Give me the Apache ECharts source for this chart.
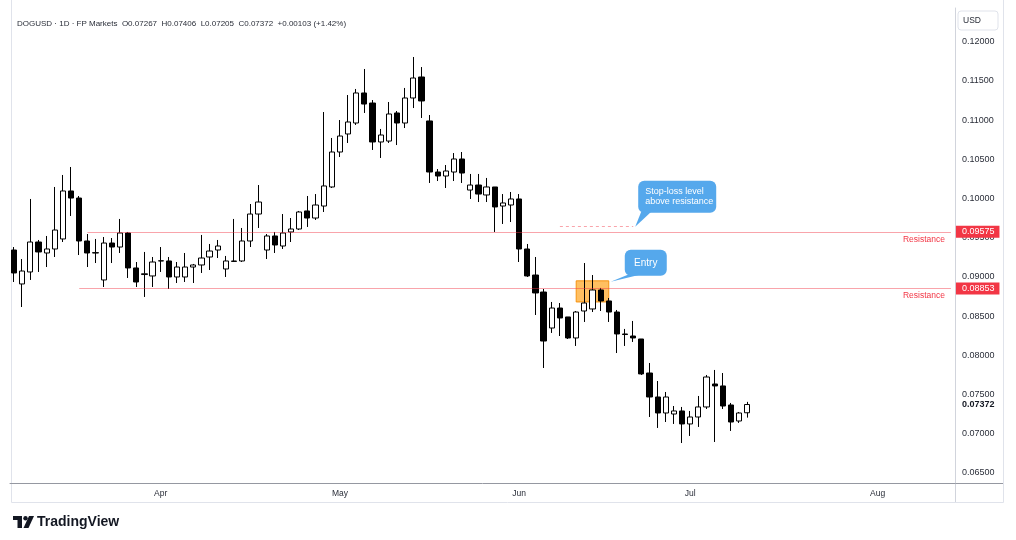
<!DOCTYPE html>
<html>
<head>
<meta charset="utf-8">
<script src="https://cdn.jsdelivr.net/npm/echarts@6/dist/echarts.min.js"></script>
<style>
  html, body {margin: 0; padding: 0; background: #fff;}
  #chart {width: 1016px; height: 540px;}
</style>
</head>
<body>
<div id="chart"></div>
<script>
// weekday sessions from Mar 6, empty sessions on the right are future space
const firstSession = Date.UTC(2025, 2, 6);
const sessionCount = 116;
const monthNames = ['Jan', 'Feb', 'Mar', 'Apr', 'May', 'Jun', 'Jul', 'Aug', 'Sep', 'Oct', 'Nov', 'Dec'];

const opens = [
  0.09343, 0.08910, 0.09063, 0.09445, 0.09305, 0.09356, 0.09484, 0.10096, 0.10006, 0.09458,
  0.09309, 0.08961, 0.09432, 0.09381, 0.09560, 0.09114, 0.09030, 0.09012, 0.09203, 0.09203,
  0.08999, 0.08999, 0.09126, 0.09152, 0.09254, 0.09343, 0.09101, 0.09197, 0.09203, 0.09458,
  0.09802, 0.09343, 0.09522, 0.09394, 0.09573, 0.09611, 0.09841, 0.09751, 0.09904, 0.10147,
  0.10593, 0.10823, 0.10963, 0.11346, 0.11218, 0.10721, 0.10733, 0.11091, 0.10963, 0.11282,
  0.11550, 0.10989, 0.10338, 0.10287, 0.10338, 0.10504, 0.10108, 0.10172, 0.10045, 0.10147,
  0.09904, 0.09917, 0.09994, 0.09356, 0.09024, 0.08807, 0.08348, 0.08603, 0.08489, 0.08221,
  0.08565, 0.08591, 0.08833, 0.08693, 0.08552, 0.08272, 0.08246, 0.08208, 0.07774, 0.07468,
  0.07264, 0.07251, 0.07290, 0.07124, 0.07213, 0.07341, 0.07634, 0.07609, 0.07366, 0.07162,
  0.07267
];
const highs = [
  0.09381, 0.09228, 0.09994, 0.09471, 0.09522, 0.10147, 0.10300, 0.10402, 0.10032, 0.09547,
  0.09484, 0.09509, 0.09496, 0.09739, 0.09573, 0.09190, 0.09318, 0.09254, 0.09381, 0.09254,
  0.09190, 0.09305, 0.09165, 0.09535, 0.09420, 0.09471, 0.09267, 0.09739, 0.09624, 0.09930,
  0.10172, 0.09547, 0.09573, 0.09802, 0.09751, 0.09841, 0.10032, 0.10057, 0.11103, 0.10772,
  0.11001, 0.11320, 0.11397, 0.11652, 0.11256, 0.10887, 0.11231, 0.11116, 0.11410, 0.11805,
  0.11677, 0.11065, 0.10376, 0.10427, 0.10580, 0.10593, 0.10313, 0.10313, 0.10262, 0.10147,
  0.10057, 0.10083, 0.10057, 0.09420, 0.09254, 0.08846, 0.08680, 0.08667, 0.08489, 0.08565,
  0.09177, 0.09024, 0.08859, 0.08731, 0.08578, 0.08336, 0.08438, 0.08208, 0.07902, 0.07672,
  0.07532, 0.07353, 0.07341, 0.07290, 0.07481, 0.07749, 0.07813, 0.07774, 0.07392, 0.07277,
  0.07406
];
const lows = [
  0.08935, 0.08616, 0.08961, 0.09063, 0.09126, 0.09254, 0.09445, 0.09777, 0.09279, 0.09126,
  0.09177, 0.08871, 0.09177, 0.09305, 0.08986, 0.08871, 0.08744, 0.08871, 0.09063, 0.08846,
  0.08922, 0.08935, 0.08922, 0.09050, 0.09088, 0.09241, 0.08999, 0.09190, 0.09190, 0.09381,
  0.09624, 0.09228, 0.09305, 0.09356, 0.09445, 0.09598, 0.09637, 0.09726, 0.09828, 0.10134,
  0.10529, 0.10708, 0.10938, 0.11091, 0.10619, 0.10517, 0.10708, 0.10682, 0.10899, 0.11154,
  0.11027, 0.10198, 0.10223, 0.10134, 0.10223, 0.10198, 0.09994, 0.09955, 0.09955, 0.09573,
  0.09675, 0.09700, 0.09190, 0.08999, 0.08514, 0.07838, 0.08285, 0.08246, 0.08208, 0.08119,
  0.08425, 0.08552, 0.08565, 0.08425, 0.08029, 0.08119, 0.08170, 0.07749, 0.07213, 0.07073,
  0.07149, 0.07124, 0.06881, 0.06971, 0.07086, 0.07315, 0.06894, 0.07315, 0.07035, 0.07137,
  0.07205
];
const closes = [
  0.09050, 0.09075, 0.09445, 0.09318, 0.09356, 0.09598, 0.10096, 0.10006, 0.09458, 0.09305,
  0.09305, 0.09432, 0.09381, 0.09560, 0.09114, 0.08935, 0.09040, 0.09190, 0.09206, 0.08999,
  0.09126, 0.09126, 0.09152, 0.09241, 0.09330, 0.09394, 0.09203, 0.09203, 0.09458, 0.09802,
  0.09955, 0.09522, 0.09407, 0.09560, 0.09611, 0.09828, 0.09751, 0.09917, 0.10160, 0.10593,
  0.10797, 0.10976, 0.11346, 0.11205, 0.10721, 0.10810, 0.11078, 0.10963, 0.11282, 0.11537,
  0.11244, 0.10338, 0.10287, 0.10351, 0.10504, 0.10325, 0.10172, 0.10057, 0.10147, 0.09892,
  0.09943, 0.09994, 0.09356, 0.09012, 0.08795, 0.08182, 0.08603, 0.08476, 0.08221, 0.08552,
  0.08667, 0.08833, 0.08693, 0.08552, 0.08272, 0.08265, 0.08221, 0.07762, 0.07468, 0.07264,
  0.07468, 0.07290, 0.07124, 0.07213, 0.07341, 0.07723, 0.07609, 0.07353, 0.07149, 0.07264,
  0.07372
];

const priceTicks = [0.065, 0.070, 0.075, 0.080, 0.085, 0.090, 0.095, 0.100, 0.105, 0.110, 0.115, 0.120];
const resistanceLevels = [0.09575, 0.08853];
const resistanceStart = [9, 8];   // session index where each line begins
const lastPrice = 0.07372;
const stopLoss = {price: 0.0964, from: 67, to: 76};
const entryZone = {top: 0.0895, bottom: 0.0868, from: 69, to: 73};

const dates = [];
for (let t = firstSession; dates.length < sessionCount; t += 86400000) {
  const wd = new Date(t).getUTCDay();
  if (wd !== 0 && wd !== 6) dates.push(new Date(t).toISOString().slice(0, 10));
}
const isMonthStart = i => i > 0 && dates[i].slice(5, 7) !== dates[i - 1].slice(5, 7);
const candles = opens.map((o, i) => [o, closes[i], lows[i], highs[i]]);

const FONT = 'Liberation Sans';
const RED = '#f23645';
const LINE_RED = 'rgba(242,54,69,0.45)';
const HIDDEN = 'rgba(0,0,0,0)';
const last = dates[dates.length - 1];

const levelLines = [];
resistanceLevels.forEach((v, k) => {
  levelLines.push([
    {coord: [dates[resistanceStart[k]], v], lineStyle: {color: LINE_RED, width: 1, type: 'solid'},
     label: {show: true, position: 'insideEndBottom', formatter: 'Resistance', color: RED, fontSize: 8.5, fontFamily: FONT, distance: [6, 3]}},
    {coord: [last, v]}
  ]);
  levelLines.push([
    {coord: [dates[resistanceStart[k]], v], lineStyle: {color: HIDDEN, width: 1},
     label: {show: true, position: 'end', formatter: v.toFixed(5), color: '#fff', backgroundColor: RED,
             padding: [2, 5, 1, 6], fontSize: 9, fontFamily: FONT, distance: 5}},
    {coord: [last, v]}
  ]);
});
levelLines.push([
  {coord: [dates[0], lastPrice], lineStyle: {color: HIDDEN, width: 1},
   label: {show: true, position: 'end', formatter: lastPrice.toFixed(5), color: '#131722', fontWeight: 'bold',
           fontSize: 9, fontFamily: FONT, distance: 11}},
  {coord: [last, lastPrice]}
]);
levelLines.push([
  {coord: [dates[stopLoss.from], stopLoss.price], lineStyle: {color: LINE_RED, width: 1, type: [3, 3]}, label: {show: false}},
  {coord: [dates[stopLoss.to], stopLoss.price]}
]);

const chart = echarts.init(document.getElementById('chart'));
chart.setOption({
  animation: false,
  backgroundColor: '#fff',
  textStyle: {fontFamily: FONT},
  title: {
    text: 'DOGUSD · 1D · FP Markets  O0.07267  H0.07406  L0.07205  C0.07372  +0.00103 (+1.42%)',
    left: 12, top: 15,
    textStyle: {fontSize: 8, fontWeight: 'normal', color: '#2a2e39', fontFamily: FONT}
  },
  grid: {left: 10, right: 61, top: 8, bottom: 57},
  xAxis: {
    type: 'category',
    data: dates,
    boundaryGap: true,
    axisLine: {lineStyle: {color: '#9598a1', width: 1}},
    axisTick: {show: false},
    splitLine: {show: false},
    axisLabel: {
      interval: i => isMonthStart(i),
      formatter: v => monthNames[+v.slice(5, 7) - 1],
      color: '#2a2e39', fontSize: 8.5, margin: 6, fontFamily: FONT
    }
  },
  yAxis: {
    type: 'value',
    position: 'right',
    min: 0.06371,
    max: 0.12430,
    splitLine: {show: false},
    axisLine: {show: true, lineStyle: {color: '#d1d4dc'}},
    axisTick: {show: false},
    axisLabel: {
      customValues: priceTicks,
      formatter: v => v.toFixed(5),
      color: '#2a2e39', fontSize: 9, margin: 7, fontFamily: FONT
    }
  },
  series: [
    {
      name: 'zone',
      type: 'line',
      data: [],
      z: 1,
      silent: true,
      markArea: {
        silent: true,
        itemStyle: {color: 'rgba(255,152,0,0.62)', borderColor: 'rgba(245,140,0,0.9)', borderWidth: 1},
        data: [[{coord: [dates[entryZone.from], entryZone.top]}, {coord: [dates[entryZone.to], entryZone.bottom]}]]
      }
    },
    {
      name: 'DOGUSD',
      type: 'candlestick',
      z: 3,
      data: candles,
      barWidth: '70%',
      itemStyle: {
        color: '#ffffff',
        color0: '#000000',
        borderColor: '#000000',
        borderColor0: '#000000',
        borderWidth: 1
      },
      markLine: {
        silent: true,
        symbol: ['none', 'none'],
        animation: false,
        data: levelLines
      }
    }
  ]
});

// callouts anchored to price points
function callout(tip, box, tail, lines, fontSize, align) {
  const children = [
    {type: 'polygon', shape: {points: [[box.x + tail[0], box.y + box.h - 1], [box.x + tail[1], box.y + box.h - 1], [tip[0], tip[1]]]},
     style: {fill: '#55a8ec'}},
    {type: 'rect', shape: {x: box.x, y: box.y, width: box.w, height: box.h, r: 6}, style: {fill: '#55a8ec'}},
    {type: 'text', style: {
      text: lines.join('\n'), fill: '#fff', font: fontSize + 'px "' + FONT + '"', lineHeight: fontSize + 1,
      x: align === 'center' ? box.x + box.w / 2 : box.x + 7, y: box.y + box.h / 2,
      align: align, verticalAlign: 'middle'
    }}
  ];
  return {type: 'group', silent: true, children: children};
}
const entryTip = chart.convertToPixel({seriesIndex: 1}, [dates[entryZone.to], entryZone.top]);
const stopTip = chart.convertToPixel({seriesIndex: 1}, [dates[stopLoss.to], stopLoss.price]);
const frame = {stroke: '#e0e3eb', lineWidth: 1};

chart.setOption({
  graphic: [
    {type: 'polyline', silent: true, shape: {points: [[11.5, 0], [11.5, 502.5], [1003.5, 502.5], [1003.5, 0]]}, style: frame},
    {type: 'line', silent: true, shape: {x1: 955.5, y1: 483, x2: 955.5, y2: 502}, style: {stroke: '#d1d4dc'}},
    {type: 'line', silent: true, shape: {x1: 955, y1: 483.5, x2: 1003, y2: 483.5}, style: {stroke: '#9598a1'}},
    callout([entryTip[0] + 2, entryTip[1] + 1], {x: entryTip[0] + 16, y: entryTip[1] - 31, w: 42, h: 26}, [3, 15], ['Entry'], 10, 'center'),
    callout([stopTip[0] + 2, stopTip[1]], {x: stopTip[0] + 5, y: stopTip[1] - 46, w: 78, h: 32}, [3, 13],
      ['Stop-loss level', 'above resistance'], 9, 'left'),
    {type: 'group', silent: true, children: [
      {type: 'rect', shape: {x: 958, y: 11, width: 40, height: 19, r: 3}, style: {fill: '#fff', stroke: '#e0e3eb'}},
      {type: 'text', style: {text: 'USD', x: 963, y: 20.5, verticalAlign: 'middle', fill: '#2a2e39', font: '8.5px "' + FONT + '"'}}
    ]},
    {type: 'group', silent: true, children: [
      {type: 'rect', shape: {x: 13, y: 516, width: 9, height: 4}, style: {fill: '#131722'}},
      {type: 'rect', shape: {x: 17.5, y: 516, width: 4.5, height: 12}, style: {fill: '#131722'}},
      {type: 'circle', shape: {cx: 25.5, cy: 518.2, r: 2.2}, style: {fill: '#131722'}},
      {type: 'polygon', shape: {points: [[29, 516], [34, 516], [28.5, 528], [23.5, 528]]}, style: {fill: '#131722'}},
      {type: 'text', style: {text: 'TradingView', x: 37, y: 522.5, verticalAlign: 'middle', fill: '#131722', font: 'bold 14px "' + FONT + '"'}}
    ]}
  ]
});
</script>
</body>
</html>
